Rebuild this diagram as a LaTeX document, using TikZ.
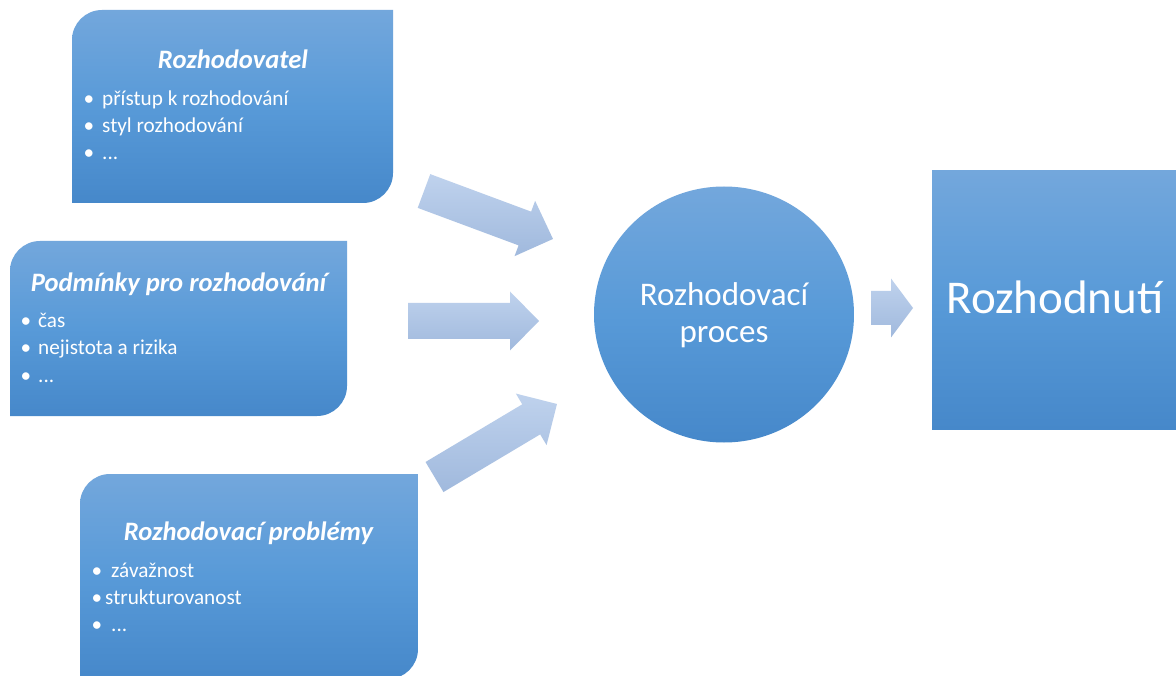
\documentclass[tikz,border=0pt]{standalone}
\usepackage{fontspec}
\setmainfont{Carlito}
\definecolor{bxTop}{RGB}{115,167,220}
\definecolor{bxMid}{RGB}{88,154,216}
\definecolor{bxBot}{RGB}{70,136,202}
\definecolor{arTop}{RGB}{191,210,237}
\definecolor{arBot}{RGB}{160,185,221}
\tikzset{
  boxshade/.style={top color=bxTop, bottom color=bxBot, middle color=bxMid, draw=none},
  arrowshade/.style={top color=arTop, bottom color=arBot, draw=none},
  ttl/.style={anchor=base, text=white, font=\fontsize{26.6}{31}\selectfont\bfseries\itshape, inner sep=0pt},
  itm/.style={anchor=base west, text=white, font=\fontsize{21.2}{25}\selectfont, inner sep=0pt},
  dot/.style={anchor=base, text=white, font=\fontsize{21.2}{25}\selectfont, inner sep=0pt},
  bigtxt/.style={anchor=base, text=white, inner sep=0pt}
}
\newcommand\cornerbox[5]{%
  \shade[boxshade] (#1,#4) -- (#1,#2+#5)
    .. controls (#1,#2+0.448*#5) and (#1+0.448*#5,#2) .. (#1+#5,#2)
    -- (#3,#2) -- (#3,#4-#5)
    .. controls (#3,#4-0.448*#5) and (#3-0.448*#5,#4) .. (#3-#5,#4) -- cycle;}
\newcommand\blockarrow[7]{%
  \begin{scope}[shift={(#1,#2)}, rotate=#3]
    \shade[arrowshade] (0,-#5) -- (#4-#7,-#5) -- (#4-#7,-#6) -- (#4,0)
      -- (#4-#7,#6) -- (#4-#7,#5) -- (0,#5) -- cycle;
  \end{scope}}
\begin{document}
\begin{tikzpicture}[x=1pt,y=-1pt]
\useasboundingbox (0,0) rectangle (1176,676);
\fill[white] (0,0) rectangle (1176,676);

% boxes
\cornerbox{72}{10}{393}{203}{30}
\cornerbox{10}{241}{347}{416}{30}
\cornerbox{80}{474}{418}{679}{30}

% box 1 text
\node[ttl] (t1) at (233,69) {Rozhodovatel};
\node[dot] (d1a) at (89,106) {•};
\node[itm] (i1a) at (102,106) {přístup k rozhodování};
\node[dot] (d1b) at (89,133) {•};
\node[itm] (i1b) at (102,133) {styl rozhodování};
\node[dot] (d1c) at (89,160) {•};
\node[itm] (i1c) at (102,160) {...};

% box 2 text
\node[ttl] (t2) at (178.5,292) {Podmínky pro rozhodování};
\node[dot] (d2a) at (26,328) {•};
\node[itm] (i2a) at (38,328) {čas};
\node[dot] (d2b) at (26,355) {•};
\node[itm] (i2b) at (38,355) {nejistota a rizika};
\node[dot] (d2c) at (26,382) {•};
\node[itm] (i2c) at (38,382) {...};

% box 3 text
\node[ttl] (t3) at (248.5,540) {Rozhodovací problémy};
\node[dot] (d3a) at (97,577) {•};
\node[itm] (i3a) at (111,577) {závažnost};
\node[dot] (d3b) at (97,604) {•};
\node[itm] (i3b) at (105,604) {strukturovanost};
\node[dot] (d3c) at (97,631) {•};
\node[itm] (i3c) at (111,631) {...};

% block arrows
\blockarrow{424}{191}{-20.4}{137.6}{18}{29.5}{30}
\blockarrow{408}{321}{0}{131}{18}{29.5}{29}
\blockarrow{434.5}{477}{30.8}{142.6}{17.5}{30}{30}
\blockarrow{871}{308}{0}{42}{17}{29.5}{22}

% process circle
\shade[boxshade] (724,314.5) ellipse [x radius=130pt, y radius=128pt];
\node[bigtxt, font=\fontsize{33}{40}\selectfont] (p1) at (724,306) {Rozhodovací};
\node[bigtxt, font=\fontsize{33}{40}\selectfont] (p2) at (724,343) {proces};

% decision rectangle
\shade[boxshade] (932,171) rectangle (1180,429);
\node[bigtxt, font=\fontsize{47}{56}\selectfont] (r1) at (1055,314) {Rozhodnutí};
\end{tikzpicture}
\end{document}
